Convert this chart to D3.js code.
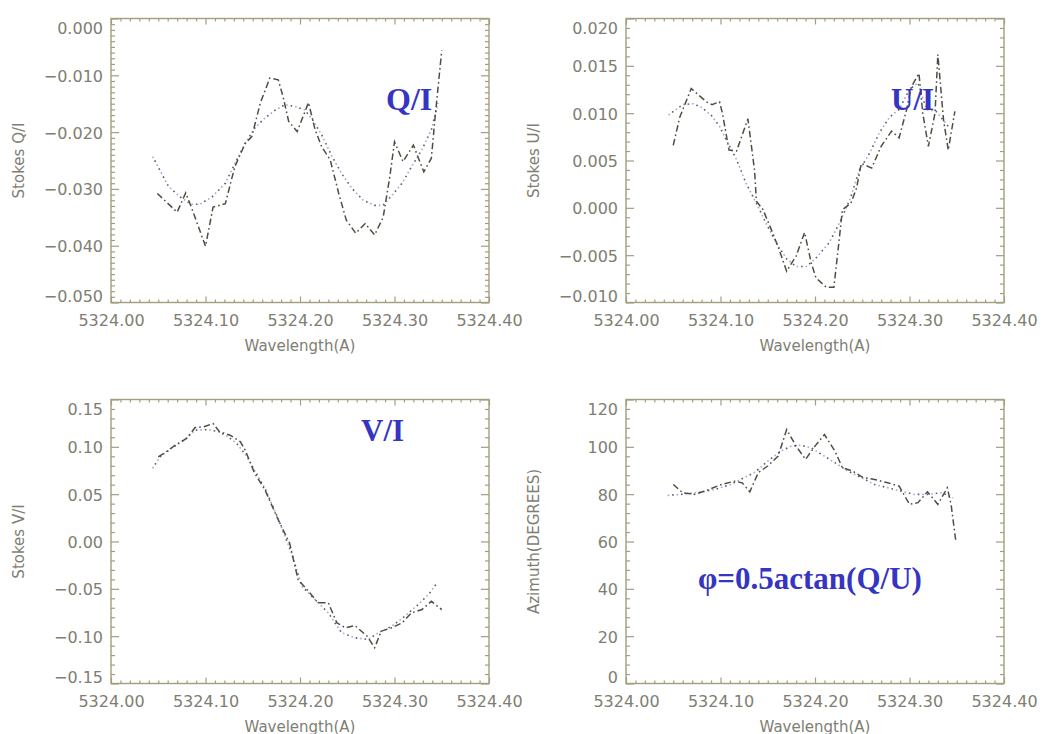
<!DOCTYPE html>
<html>
<head>
<meta charset="utf-8">
<script src="https://cdn.jsdelivr.net/npm/d3@7"></script>
<style>
  html, body { margin: 0; padding: 0; background: #ffffff; }
  svg { display: block; }
  .tick text { font-family: "DejaVu Sans", sans-serif; font-size: 16px; fill: #7e7e72; }
  .axis-title { font-family: "DejaVu Sans", sans-serif; fill: #7e7e72; }
  .tag { font-family: "Liberation Serif", "Times New Roman", serif; font-weight: bold; fill: #3535c2; }
</style>
</head>
<body>
<svg id="chart" width="1042" height="734"></svg>
<script>
// Wavelength tick labels shared by all four panels (Angstrom)
const wavelengthTicks = [5324.00, 5324.10, 5324.20, 5324.30, 5324.40];

// Stokes Q/I: observed profile (dash-dot) and fitted profile (dotted)
const qiObsWl = [5324.049, 5324.070, 5324.079, 5324.085, 5324.100, 5324.108, 5324.121, 5324.131, 5324.142, 5324.149, 5324.158, 5324.168, 5324.177, 5324.182, 5324.188, 5324.197, 5324.209, 5324.216, 5324.223, 5324.232, 5324.241, 5324.249, 5324.259, 5324.269, 5324.279, 5324.288, 5324.295, 5324.300, 5324.309, 5324.320, 5324.331, 5324.339, 5324.343, 5324.350];
const qiObs = [-0.0308, -0.0341, -0.0307, -0.0332, -0.0401, -0.0332, -0.0326, -0.0261, -0.0220, -0.0208, -0.0149, -0.0105, -0.0108, -0.0137, -0.0181, -0.0199, -0.0148, -0.0196, -0.0226, -0.0249, -0.0308, -0.0355, -0.0378, -0.0361, -0.0381, -0.0350, -0.0279, -0.0217, -0.0252, -0.0223, -0.0270, -0.0246, -0.0173, -0.0056];
const qiFitWl = [5324.044, 5324.061, 5324.073, 5324.085, 5324.094, 5324.107, 5324.121, 5324.133, 5324.142, 5324.152, 5324.163, 5324.174, 5324.184, 5324.195, 5324.205, 5324.214, 5324.223, 5324.234, 5324.244, 5324.255, 5324.267, 5324.279, 5324.288, 5324.299, 5324.308, 5324.318, 5324.329, 5324.339, 5324.346];
const qiFit = [-0.0243, -0.0296, -0.0314, -0.0327, -0.0327, -0.0314, -0.0290, -0.0249, -0.0220, -0.0193, -0.0175, -0.0161, -0.0152, -0.0155, -0.0161, -0.0180, -0.0205, -0.0243, -0.0273, -0.0299, -0.0320, -0.0329, -0.0329, -0.0308, -0.0290, -0.0261, -0.0231, -0.0196, -0.0149];
const qiTicks = [0.000, -0.010, -0.020, -0.030, -0.040, -0.050];

// Stokes U/I
const uiObsWl = [5324.050, 5324.057, 5324.069, 5324.085, 5324.091, 5324.099, 5324.102, 5324.109, 5324.117, 5324.129, 5324.136, 5324.138, 5324.145, 5324.155, 5324.162, 5324.170, 5324.180, 5324.189, 5324.196, 5324.201, 5324.212, 5324.220, 5324.226, 5324.229, 5324.238, 5324.244, 5324.249, 5324.260, 5324.270, 5324.281, 5324.289, 5324.297, 5324.302, 5324.310, 5324.314, 5324.320, 5324.327, 5324.330, 5324.336, 5324.341, 5324.348];
const uiObs = [0.0066, 0.0096, 0.0126, 0.0112, 0.0109, 0.0112, 0.0100, 0.0061, 0.0060, 0.0094, 0.0040, 0.0007, -0.0002, -0.0026, -0.0044, -0.0067, -0.0051, -0.0026, -0.0058, -0.0074, -0.0084, -0.0084, -0.0030, -0.0002, 0.0005, 0.0021, 0.0047, 0.0042, 0.0065, 0.0081, 0.0074, 0.0104, 0.0128, 0.0142, 0.0100, 0.0065, 0.0100, 0.0162, 0.0093, 0.0061, 0.0102];
const uiFitWl = [5324.045, 5324.060, 5324.071, 5324.080, 5324.090, 5324.099, 5324.106, 5324.117, 5324.127, 5324.138, 5324.148, 5324.159, 5324.170, 5324.180, 5324.191, 5324.201, 5324.215, 5324.226, 5324.237, 5324.247, 5324.258, 5324.268, 5324.279, 5324.289, 5324.300, 5324.309, 5324.318, 5324.328, 5324.337, 5324.342];
const uiFit = [0.0098, 0.0109, 0.0110, 0.0106, 0.0098, 0.0086, 0.0072, 0.0051, 0.0026, 0.0005, -0.0016, -0.0037, -0.0054, -0.0062, -0.0062, -0.0053, -0.0037, -0.0016, 0.0009, 0.0040, 0.0058, 0.0079, 0.0096, 0.0104, 0.0125, 0.0132, 0.0104, 0.0102, 0.0091, 0.0085];
const uiTicks = [0.020, 0.015, 0.010, 0.005, 0.000, -0.005, -0.010];

// Stokes V/I
const viObsWl = [5324.050, 5324.057, 5324.068, 5324.080, 5324.089, 5324.098, 5324.108, 5324.115, 5324.126, 5324.137, 5324.142, 5324.152, 5324.163, 5324.177, 5324.189, 5324.198, 5324.209, 5324.219, 5324.230, 5324.239, 5324.248, 5324.258, 5324.271, 5324.279, 5324.286, 5324.297, 5324.308, 5324.318, 5324.329, 5324.339, 5324.350];
const viObs = [0.0895, 0.0937, 0.1018, 0.1088, 0.1204, 0.1211, 0.1246, 0.1158, 0.1123, 0.1053, 0.0965, 0.0720, 0.0544, 0.0228, -0.0017, -0.0403, -0.0526, -0.0648, -0.0648, -0.0859, -0.0912, -0.0887, -0.1000, -0.1122, -0.0947, -0.0912, -0.0859, -0.0754, -0.0719, -0.0632, -0.0719];
const viFitWl = [5324.044, 5324.052, 5324.064, 5324.078, 5324.089, 5324.103, 5324.114, 5324.124, 5324.133, 5324.144, 5324.152, 5324.163, 5324.177, 5324.191, 5324.202, 5324.216, 5324.230, 5324.244, 5324.258, 5324.272, 5324.283, 5324.297, 5324.311, 5324.325, 5324.336, 5324.345];
const viFit = [0.0773, 0.0895, 0.0983, 0.1078, 0.1176, 0.1183, 0.1158, 0.1105, 0.1036, 0.0895, 0.0750, 0.0560, 0.0240, -0.0122, -0.0474, -0.0614, -0.0754, -0.0964, -0.1017, -0.1035, -0.0964, -0.0895, -0.0789, -0.0666, -0.0561, -0.0438];
const viTicks = [0.15, 0.10, 0.05, 0.00, -0.05, -0.10, -0.15];

// Azimuth (degrees)
const azObsWl = [5324.050, 5324.060, 5324.073, 5324.088, 5324.101, 5324.115, 5324.123, 5324.131, 5324.140, 5324.150, 5324.161, 5324.170, 5324.180, 5324.190, 5324.200, 5324.210, 5324.221, 5324.229, 5324.240, 5324.251, 5324.263, 5324.277, 5324.289, 5324.300, 5324.309, 5324.319, 5324.330, 5324.340, 5324.344, 5324.349];
const azObs = [84.1, 80.6, 79.9, 82.0, 84.1, 85.5, 84.8, 81.0, 89.1, 91.9, 96.1, 107.3, 100.3, 94.7, 100.3, 105.2, 98.2, 91.2, 89.7, 87.0, 86.2, 84.8, 83.4, 75.7, 76.4, 81.0, 75.7, 82.7, 75.7, 60.2];
const azFitWl = [5324.044, 5324.058, 5324.076, 5324.094, 5324.111, 5324.125, 5324.136, 5324.150, 5324.164, 5324.175, 5324.185, 5324.196, 5324.207, 5324.221, 5324.235, 5324.249, 5324.263, 5324.277, 5324.291, 5324.305, 5324.319, 5324.334, 5324.346];
const azFit = [79.5, 79.9, 80.6, 82.0, 84.1, 87.0, 89.1, 94.0, 98.2, 100.3, 100.7, 99.6, 96.8, 93.3, 89.7, 87.0, 84.1, 82.7, 81.3, 79.9, 79.9, 80.6, 78.5];
const azTicks = [120, 100, 80, 60, 40, 20, 0];

const panels = [
  { left: 111, top: 18.5, yTitle: "Stokes Q/I", ticks: qiTicks, minor: 10, fmt: ".3f",
    obs: [qiObsWl, qiObs], fit: [qiFitWl, qiFit], tag: "Q/I", tagX: 386, tagY: 110, tagSize: 32 },
  { left: 626, top: 18.5, yTitle: "Stokes U/I", ticks: uiTicks, minor: 5, fmt: ".3f",
    obs: [uiObsWl, uiObs], fit: [uiFitWl, uiFit], tag: "U/I", tagX: 891, tagY: 110, tagSize: 31 },
  { left: 111, top: 399.5, yTitle: "Stokes V/I", ticks: viTicks, minor: 5, fmt: ".2f",
    obs: [viObsWl, viObs], fit: [viFitWl, viFit], tag: "V/I", tagX: 361, tagY: 441, tagSize: 31 },
  { left: 626, top: 399.5, yTitle: "Azimuth(DEGREES)", ticks: azTicks, minor: 5, fmt: "d",
    obs: [azObsWl, azObs], fit: [azFitWl, azFit], tag: "\u03C6=0.5actan(Q/U)", tagX: 698, tagY: 589, tagSize: 31 }
];

const W = 378, H = 284;
const axisColor = "#a29e7e";
const svg = d3.select("#chart");

function minorValues(major, n) {
  const out = [];
  const sorted = major.slice().sort((a, b) => a - b);
  for (let i = 0; i < sorted.length - 1; i++) {
    const step = (sorted[i + 1] - sorted[i]) / n;
    for (let k = 1; k < n; k++) out.push(sorted[i] + k * step);
  }
  return out;
}

function styleAxis(g) {
  g.select(".domain").remove();
  g.selectAll(".tick line").attr("stroke", axisColor).attr("stroke-width", 1.2);
}

panels.forEach(p => {
  const g = svg.append("g").attr("transform", `translate(${p.left},${p.top})`);
  const x = d3.scaleLinear().domain([5324.00, 5324.40]).range([0, W]);
  const yExt = d3.extent(p.ticks);
  const y = d3.scaleLinear().domain(yExt).range([H, 0]);
  const xMinor = minorValues(wavelengthTicks, 10);
  const yMinor = minorValues(p.ticks, p.minor);

  // Frame
  g.append("rect").attr("x", 0).attr("y", 0).attr("width", W).attr("height", H)
    .attr("fill", "none").attr("stroke", axisColor).attr("stroke-width", 1.4);

  // Bottom axis with labels, top axis ticks only (all ticks point inward)
  g.append("g").attr("transform", `translate(0,${H})`)
    .call(d3.axisBottom(x).tickValues(wavelengthTicks).tickSize(-6).tickPadding(12).tickFormat(d3.format(".2f")))
    .call(styleAxis);
  g.append("g").attr("transform", `translate(0,${H})`)
    .call(d3.axisBottom(x).tickValues(xMinor).tickSize(-3).tickFormat(""))
    .call(styleAxis);
  g.append("g")
    .call(d3.axisTop(x).tickValues(wavelengthTicks).tickSize(-6).tickFormat(""))
    .call(styleAxis);
  g.append("g")
    .call(d3.axisTop(x).tickValues(xMinor).tickSize(-3).tickFormat(""))
    .call(styleAxis);

  // Left axis with labels, right axis ticks only
  const yl = g.append("g")
    .call(d3.axisLeft(y).tickValues(p.ticks).tickSize(-8).tickPadding(8).tickFormat(d3.format(p.fmt)))
    .call(styleAxis);
  yl.selectAll(".tick text").attr("dy", d => d === yExt[1] ? "0.95em" : d === yExt[0] ? "-0.05em" : "0.38em");
  g.append("g")
    .call(d3.axisLeft(y).tickValues(yMinor).tickSize(-4).tickFormat(""))
    .call(styleAxis);
  g.append("g").attr("transform", `translate(${W},0)`)
    .call(d3.axisRight(y).tickValues(p.ticks).tickSize(-8).tickFormat(""))
    .call(styleAxis);
  g.append("g").attr("transform", `translate(${W},0)`)
    .call(d3.axisRight(y).tickValues(yMinor).tickSize(-4).tickFormat(""))
    .call(styleAxis);

  // Axis titles
  g.append("text").attr("class", "axis-title")
    .attr("x", W / 2).attr("y", H + 48).attr("text-anchor", "middle")
    .attr("font-size", 15).text("Wavelength(A)");
  g.append("text").attr("class", "axis-title")
    .attr("transform", `translate(-87,${H / 2}) rotate(-90)`)
    .attr("text-anchor", "middle").attr("font-size", 15).text(p.yTitle);

  const line = d3.line().x(d => x(d[0])).y(d => y(d[1]));
  const fitPts = p.fit[0].map((w, i) => [w, p.fit[1][i]]);
  const obsPts = p.obs[0].map((w, i) => [w, p.obs[1][i]]);

  // Fitted profile: dotted, alternating blue and grey dots
  g.append("path").attr("d", line(fitPts)).attr("fill", "none")
    .attr("stroke", "#a4a4f2").attr("stroke-width", 1.6).attr("stroke-dasharray", "1.6,7.4");
  g.append("path").attr("d", line(fitPts)).attr("fill", "none")
    .attr("stroke", "#5e5e52").attr("stroke-width", 1.6).attr("stroke-dasharray", "1.6,7.4")
    .attr("stroke-dashoffset", 4.5);

  // Observed profile: dash-dot
  g.append("path").attr("d", line(obsPts)).attr("fill", "none")
    .attr("stroke", "#4e4e40").attr("stroke-width", 1.5).attr("stroke-dasharray", "6.5,3,1.6,3");

  // Panel tag
  svg.append("text").attr("class", "tag")
    .attr("x", p.tagX).attr("y", p.tagY).attr("font-size", p.tagSize).text(p.tag);
});
</script>
</body>
</html>
